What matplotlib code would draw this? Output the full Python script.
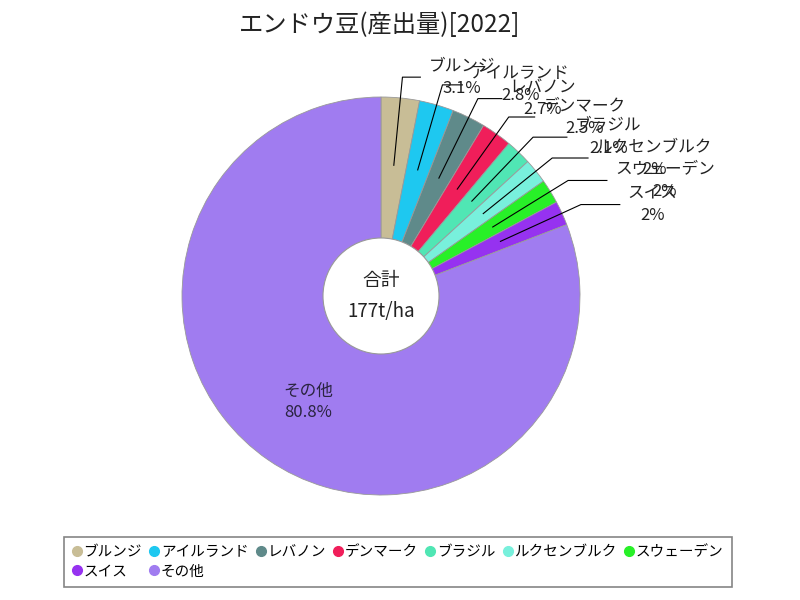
import numpy as np
import matplotlib
matplotlib.use('Agg')
import matplotlib.pyplot as plt
from matplotlib.patches import Circle
from matplotlib.lines import Line2D

plt.rcParams['font.family'] = ['Noto Sans CJK JP', 'DejaVu Sans']

# データ
countries = ["ブルンジ", "アイルランド", "レバノン", "デンマーク", "ブラジル",
             "ルクセンブルク", "スウェーデン", "スイス", "その他"]
values = [5.5, 4.95, 4.8, 4.4, 3.7, 3.55, 3.5, 3.5, 143.0]  # t/ha
colors = ["#c8bd96", "#1ec8f0", "#5f8a8a", "#f01e5a", "#50e6b4",
          "#78f0dc", "#28f028", "#9632f0", "#a07cf0"]
title = "エンドウ豆(産出量)[2022]"
unit = "t/ha"

# 図のサイズ: 800x600, 円の中心 (381, 296), 半径 199px
W, H = 800, 600
cx, cy, R = 381, 296, 199
fig = plt.figure(figsize=(8, 6), dpi=100)
ax = fig.add_axes([0, 0, 1, 1])

wedges, _ = ax.pie(values, colors=colors, startangle=90, counterclock=False,
                   radius=1, wedgeprops=dict(edgecolor='#999999', linewidth=0.6))
ax.set_xlim(-cx / R, (W - cx) / R)
ax.set_ylim(-(H - cy) / R, cy / R)
ax.axis('off')

total = sum(values)
pcts = [round(v / total * 100, 1) for v in values]

def fmt(p):
    return f"{p:g}%"

# 外側ラベル（引出線付き）
label_arm = [0.09, 0.10, 0.12, 0.13, 0.17, 0.18, 0.195, 0.195]
gap = 8 / R
for i, w in enumerate(wedges):
    mid = np.deg2rad((w.theta1 + w.theta2) / 2)
    ux, uy = np.cos(mid), np.sin(mid)
    if countries[i] == "その他":
        ax.text(0.645 * ux, 0.645 * uy, f"{countries[i]}\n{fmt(pcts[i])}",
                ha='center', va='center', fontsize=12, color='#2a2440',
                linespacing=1.35, multialignment='center')
        continue
    x0, y0 = 0.66 * ux, 0.66 * uy
    x1, y1 = 1.105 * ux, 1.105 * uy
    x2 = x1 + label_arm[i]
    ax.add_line(Line2D([x0, x1, x2], [y0, y1, y1], color='black', lw=0.8))
    ax.text(x2 + gap, y1, f"{countries[i]}\n{fmt(pcts[i])}",
            ha='left', va='center', fontsize=12, color='#222222',
            linespacing=1.4, multialignment='center')

# 中央の円
ax.add_patch(Circle((0, 0), 58 / R, facecolor='white', edgecolor='#999999',
                    linewidth=0.8, zorder=5))
ax.text(0, 0, f"合計\n{total:.0f}{unit}", ha='center', va='center',
        fontsize=13.5, color='#222222', linespacing=1.65, zorder=6,
        multialignment='center')

fig.text(380 / W, 1 - 25 / H, title, ha='center', va='center',
         fontsize=17.5, color='#222222')

# 凡例: 行方向に並べるため並べ替え (7列 x 2行)
ncol = 7
handles = [Line2D([], [], marker='o', linestyle='', markersize=7,
                  markerfacecolor=c, markeredgecolor=c) for c in colors]
order = []
for c in range(ncol):
    order.append(c)
    if c + ncol < len(countries):
        order.append(c + ncol)
leg = fig.legend([handles[k] for k in order], [countries[k] for k in order],
                 loc='center', bbox_to_anchor=(398 / W, 1 - 562 / H),
                 ncol=ncol, fontsize=10.5, frameon=True, fancybox=False,
                 handlelength=0.6, handletextpad=0.15, columnspacing=0.55,
                 borderpad=0.55, labelspacing=0.35, edgecolor='#666666')
leg.get_frame().set_linewidth(1.2)

fig.savefig('out.png', dpi=100)
